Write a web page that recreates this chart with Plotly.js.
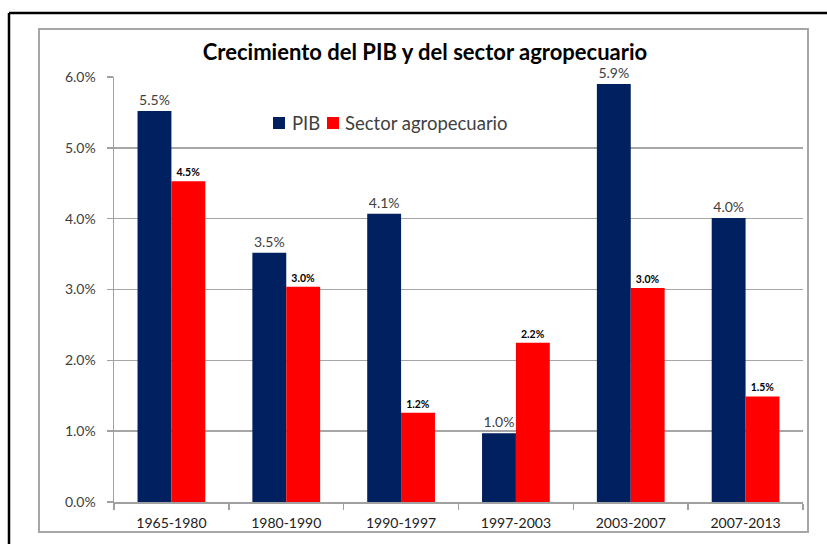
<!DOCTYPE html>
<html>
<head>
<meta charset="utf-8">
<script src="https://cdn.plot.ly/plotly-3.0.1.min.js"></script>
<style>html,body{margin:0;padding:0;background:#fff;}#chart{width:827px;height:544px;}</style>
</head>
<body>
<div id="chart"></div>
<script>
const categories = ["1965-1980", "1980-1990", "1990-1997", "1997-2003", "2003-2007", "2007-2013"];
const pib = [5.52, 3.52, 4.07, 0.97, 5.90, 4.01];
const sector = [4.53, 3.04, 1.26, 2.25, 3.02, 1.49];
const pibLabels = ["5.5%", "3.5%", "4.1%", "1.0%", "5.9%", "4.0%"];
const sectorLabels = ["4.5%", "3.0%", "1.2%", "2.2%", "3.0%", "1.5%"];
const seriesNames = ["PIB", "Sector agropecuario"];
const seriesColors = ["#002060", "#ff0000"];

const W = 827, H = 544;
const L = 114, R = 803, T = 77, B = 502;
const px = x => (x - L) / (R - L);
const py = y => (B - y) / (B - T);
const FONT = "Lato, 'Noto Sans', sans-serif";

const traces = [
  {
    type: "bar", name: seriesNames[0], x: categories, y: pib,
    marker: {color: seriesColors[0]},
    text: pibLabels, textposition: "outside", cliponaxis: false,
    textfont: {size: 14, color: "#404040", family: FONT},
    hoverinfo: "none"
  },
  {
    type: "bar", name: seriesNames[1], x: categories, y: sector,
    marker: {color: seriesColors[1]},
    text: sectorLabels, textposition: "outside", cliponaxis: false,
    textfont: {size: 10.5, color: "#000000", family: FONT, weight: "bold"},
    hoverinfo: "none"
  }
];

// manual legend (squares + labels), positioned like the original
const legendItems = [
  {sq: 273, tx: 290},
  {sq: 327, tx: 343}
];
const legendY = 123;
const legendShapes = legendItems.map((it, i) => ({
  type: "rect", xref: "paper", yref: "paper",
  x0: px(it.sq), x1: px(it.sq + 12), y0: py(legendY + 6), y1: py(legendY - 6),
  line: {width: 0}, fillcolor: seriesColors[i]
}));
const legendAnnots = legendItems.map((it, i) => ({
  xref: "paper", yref: "paper", x: px(it.tx), y: py(legendY),
  xanchor: "left", yanchor: "middle", showarrow: false,
  text: seriesNames[i], font: {size: 18.5, color: "#404040", family: FONT}
}));

const layout = {
  width: W, height: H,
  margin: {l: L, r: W - R, t: T, b: H - B},
  paper_bgcolor: "#ffffff", plot_bgcolor: "#ffffff",
  font: {family: FONT, color: "#404040", size: 12},
  barmode: "group", bargap: 0.41, bargroupgap: 0,
  title: {
    text: "<b>Crecimiento del PIB y del sector agropecuario</b>",
    font: {size: 22, color: "#000000", family: FONT},
    x: px(425), xanchor: "center", xref: "paper", y: 1 - 52 / H, yanchor: "middle"
  },
  showlegend: false,
  xaxis: {
    type: "category",
    showline: true, linecolor: "#a0a0a0", linewidth: 1.5,
    ticks: "outside", tickson: "boundaries", ticklen: 6, tickcolor: "#a0a0a0", tickwidth: 1.5,
    tickfont: {size: 14, color: "#202020", family: FONT},
    ticklabelstandoff: 8,
    showgrid: false, zeroline: false, fixedrange: true
  },
  yaxis: {
    range: [0, 6], dtick: 1, tickformat: ".1f", ticksuffix: "%",
    showline: true, linecolor: "#a0a0a0", linewidth: 1.5,
    ticks: "outside", ticklen: 6, tickcolor: "#a0a0a0", tickwidth: 1.5,
    showgrid: true, gridcolor: "#a6a6a6", gridwidth: 1.5,
    zeroline: false,
    tickfont: {size: 14, color: "#404040", family: FONT},
    ticklabelstandoff: 8, fixedrange: true
  },
  annotations: legendAnnots,
  shapes: [
    {type: "rect", xref: "paper", yref: "paper", x0: px(39), x1: px(808), y0: py(532), y1: py(29),
     line: {color: "#a6a6a6", width: 2}, fillcolor: "rgba(0,0,0,0)", layer: "below"},
    {type: "line", xref: "paper", yref: "paper", x0: px(9), x1: px(830), y0: py(13), y1: py(13),
     line: {color: "#000000", width: 2.5}},
    {type: "line", xref: "paper", yref: "paper", x0: px(9), x1: px(9), y0: py(13), y1: py(550),
     line: {color: "#000000", width: 2.5}}
  ].concat(legendShapes)
};

Plotly.newPlot("chart", traces, layout, {displayModeBar: false, staticPlot: true});
</script>
</body>
</html>
